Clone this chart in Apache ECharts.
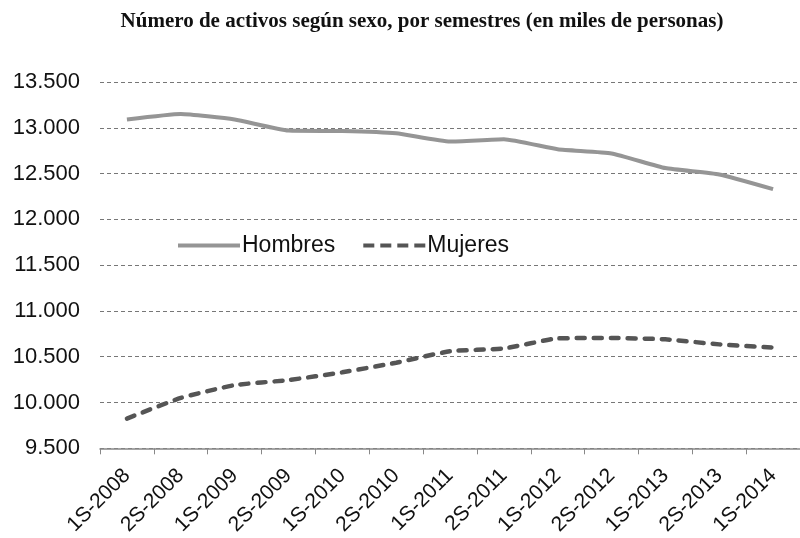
<!DOCTYPE html>
<html>
<head>
<meta charset="utf-8">
<script src="https://cdn.jsdelivr.net/npm/echarts@6/dist/echarts.min.js"></script>
<style>
  html, body { margin: 0; padding: 0; background: #fff; }
  #chart { width: 800px; height: 538px; }
</style>
</head>
<body>
<div id="chart"></div>
<script>
// semestres
const categories = ["1S-2008", "2S-2008", "1S-2009", "2S-2009", "1S-2010", "2S-2010", "1S-2011",
  "2S-2011", "1S-2012", "2S-2012", "1S-2013", "2S-2013", "1S-2014"];

// miles de personas
const hombres = [13090, 13150, 13090, 12970, 12965, 12940, 12850, 12875, 12765, 12720, 12560, 12490, 12330];
const mujeres = [9825, 10050, 10190, 10245, 10330, 10435, 10560, 10590, 10700, 10705, 10690, 10635, 10600];

const yTicks = { min: 9500, max: 13500, step: 500 };

const chart = echarts.init(document.getElementById("chart"));

// iconos de la leyenda: linea continua y linea de trazos
const solidIcon = "path://M0,0h62v4h-62z";
const dashIcon = "path://M0,0h11v4h-11z M17,0h11v4h-11z M34,0h11v4h-11z M51,0h11v4h-11z";

const option = {
  backgroundColor: "#fff",
  animation: false,
  title: {
    text: "Número de activos según sexo, por semestres (en miles de personas)",
    left: 417,
    textAlign: "center",
    top: 6,
    textStyle: {
      fontFamily: "Liberation Serif",
      fontWeight: "bold",
      fontSize: 21,
      color: "#111"
    }
  },
  legend: {
    left: 173,
    top: 229,
    itemWidth: 62,
    itemHeight: 4,
    itemGap: 28,
    textStyle: { fontFamily: "Liberation Sans", fontSize: 23, color: "#111", padding: [0, 0, 0, -3] },
    data: [
      { name: "Hombres", icon: solidIcon },
      { name: "Mujeres", icon: dashIcon }
    ]
  },
  grid: {
    left: 100,
    top: 82,
    width: 706,
    height: 368
  },
  xAxis: {
    type: "category",
    data: categories,
    boundaryGap: true,
    axisLine: { lineStyle: { color: "#888", width: 1.5 } },
    axisTick: { show: true, length: 6, lineStyle: { color: "#888" } },
    axisLabel: {
      rotate: 45,
      margin: 24,
      fontFamily: "Liberation Sans",
      fontSize: 21,
      color: "#111"
    }
  },
  yAxis: {
    type: "value",
    min: yTicks.min,
    max: yTicks.max,
    interval: yTicks.step,
    axisLine: { show: false },
    axisTick: { show: false },
    axisLabel: {
      margin: 20,
      fontFamily: "Liberation Sans",
      fontSize: 22,
      color: "#111",
      formatter: v => v.toLocaleString("de-DE").replace(",", ".")
    },
    splitLine: { lineStyle: { color: "#777", type: [4, 3], width: 1 } }
  },
  series: [
    {
      name: "Hombres",
      type: "line",
      data: hombres,
      symbol: "none",
      smooth: 0.15,
      lineStyle: { color: "#959595", width: 4 },
      itemStyle: { color: "#959595" }
    },
    {
      name: "Mujeres",
      type: "line",
      data: mujeres,
      symbol: "none",
      smooth: 0.15,
      lineStyle: { color: "#555", width: 4.5, type: [8, 9], cap: "round" },
      itemStyle: { color: "#555" }
    }
  ]
};

chart.setOption(option);
</script>
</body>
</html>
